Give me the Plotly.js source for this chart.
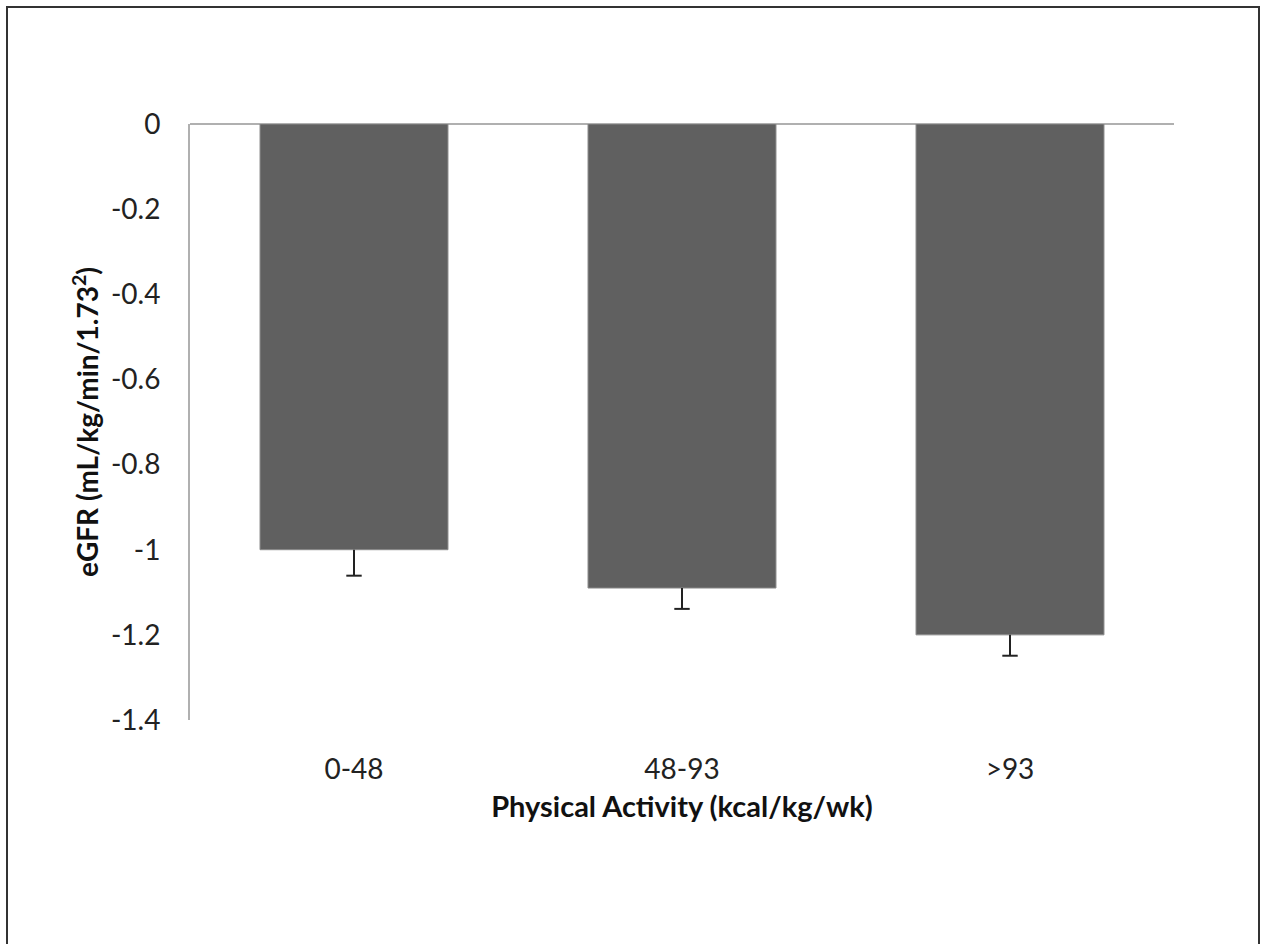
<!DOCTYPE html>
<html>
<head>
<meta charset="utf-8">
<script src="https://cdn.plot.ly/plotly-3.0.1.min.js"></script>
<style>
html,body{margin:0;padding:0;background:#fff;}
#frame{position:absolute;left:6px;top:6px;width:1250px;height:960px;border:2px solid #333;box-sizing:content-box;pointer-events:none;}
#chart{position:absolute;left:0;top:0;width:1267px;height:944px;}
</style>
</head>
<body>
<div id="chart"></div>
<div id="frame"></div>
<script>
const categories = ["0-48", "48-93", ">93"];
const values = [-1.00, -1.09, -1.20];
const errorsMinus = [0.061, 0.049, 0.049];
const yTickVals = [0, -0.2, -0.4, -0.6, -0.8, -1, -1.2, -1.4];
const yTickText = ["0", "-0.2", "-0.4", "-0.6", "-0.8", "-1", "-1.2", "-1.4"];

const font = "Lato, 'Open Sans', sans-serif";
const errEnds = values.map((v, i) => v - errorsMinus[i]);

Plotly.newPlot("chart", [{
  type: "bar",
  x: categories,
  y: values,
  marker: {color: "#606060", line: {color: "#8a8a8a", width: 1}},
  error_y: {type: "data", symmetric: false, array: [0, 0, 0], arrayminus: errorsMinus,
            color: "#222", thickness: 2, width: 0}
}, {
  type: "scatter",
  mode: "markers",
  x: categories,
  y: errEnds,
  marker: {symbol: "line-ew", size: 11, line: {color: "#222", width: 2}},
  hoverinfo: "skip"
}], {
  width: 1267, height: 944,
  margin: {l: 190, r: 93, t: 124, b: 224},
  paper_bgcolor: "#fff", plot_bgcolor: "#fff",
  bargap: 0.427,
  showlegend: false,
  font: {family: font, color: "#222", size: 28},
  xaxis: {
    showline: false, showgrid: false, zeroline: false, ticks: "",
    ticklabelstandoff: 30,
    tickfont: {size: 28, color: "#222"},
    title: {text: "<b>Physical Activity (kcal/kg/wk)</b>", font: {size: 29, color: "#111"}, standoff: 12},
    automargin: false
  },
  yaxis: {
    range: [-1.4, 0],
    tickvals: yTickVals, ticktext: yTickText,
    showline: true, linecolor: "#b0b0b0", linewidth: 2,
    zeroline: true, zerolinecolor: "#b0b0b0", zerolinewidth: 2,
    showgrid: false, ticks: "",
    ticklabelstandoff: 22,
    tickfont: {size: 28, color: "#222"},
    title: {text: "<b>eGFR (mL/kg/min/1.73<sup>2</sup>)</b>", font: {size: 28, color: "#111"}, standoff: 4},
    automargin: false
  }
}, {displayModeBar: false, staticPlot: true});
</script>
</body>
</html>
